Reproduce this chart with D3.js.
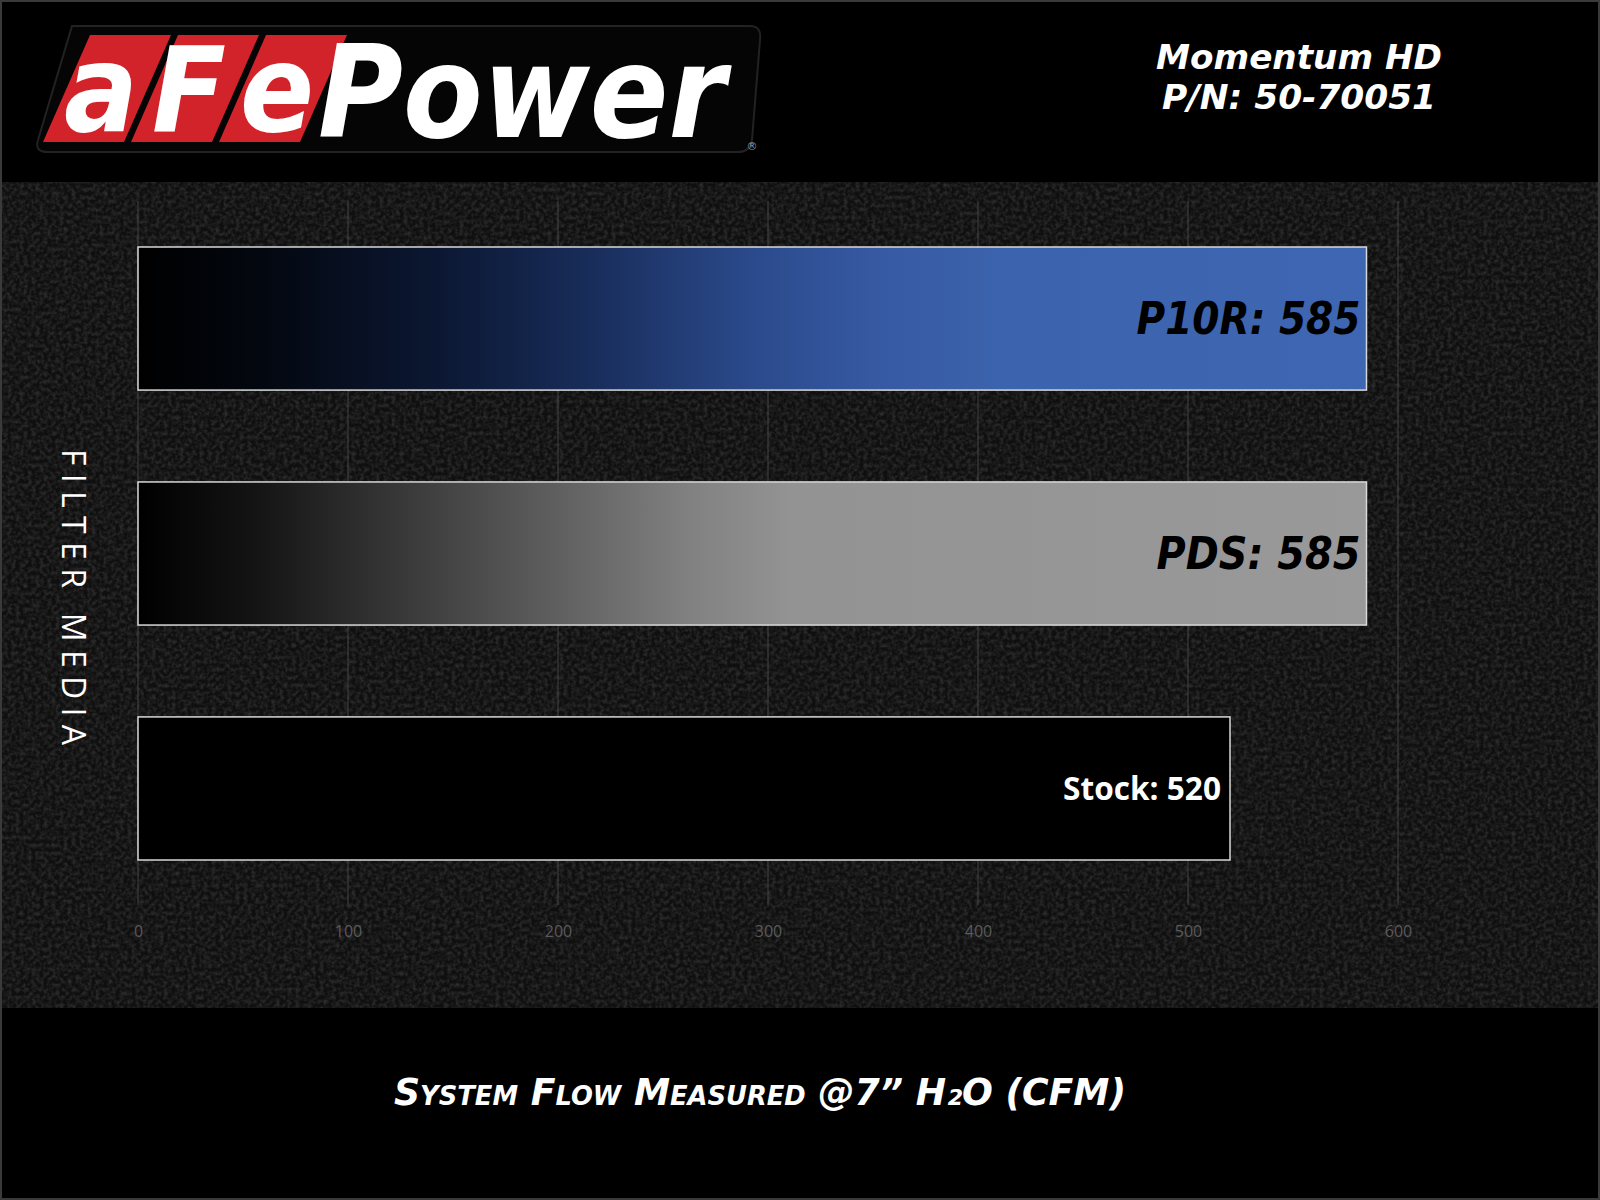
<!DOCTYPE html>
<html><head><meta charset="utf-8">
<script src="https://cdn.jsdelivr.net/npm/d3@7"></script>
<style>html,body{margin:0;padding:0;background:#000;}svg{display:block;}</style>
</head><body>
<svg id="c" width="1600" height="1200"></svg>
<script>
const categories = ["P10R", "PDS", "Stock"];
const values = [585, 585, 520];
const barLabels = ["P10R: 585", "PDS: 585", "Stock: 520"];
const tickValues = [0, 100, 200, 300, 400, 500, 600];
const titleLines = ["Momentum HD", "P/N: 50-70051"];
const yTitle = "FILTER MEDIA";
const xTitle = "System Flow Measured @7\u201D H\u2082O (CFM)";
const logoRed = ["a", "F", "e"];
const logoWhite = "Power";

const svg = d3.select("#c");
const W = 1600, H = 1200;
const defs = svg.append("defs");

// subtle noise texture
const f = defs.append("filter").attr("id", "noise").attr("x", 0).attr("y", 0).attr("width", "100%").attr("height", "100%");
f.append("feTurbulence").attr("type", "fractalNoise").attr("baseFrequency", 0.25).attr("numOctaves", 4).attr("seed", 7).attr("result", "t");
f.append("feColorMatrix").attr("in", "t").attr("type", "matrix")
  .attr("values", "0 0 0 0 0.12  0 0 0 0 0.12  0 0 0 0 0.12  0 0 0 -1.6 1.05");

const gBlue = defs.append("linearGradient").attr("id", "gBlue");
[[0, "#000000"], [0.1, "#03070f"], [0.25, "#0c1834"], [0.38, "#1a2f5e"], [0.5, "#2b4a8c"], [0.6, "#3659a2"], [0.7, "#3c63ad"], [1, "#3e66b2"]]
  .forEach(s => gBlue.append("stop").attr("offset", s[0]).attr("stop-color", s[1]));
const gGray = defs.append("linearGradient").attr("id", "gGray");
[[0, "#000000"], [0.1, "#151515"], [0.22, "#3a3a3a"], [0.35, "#626262"], [0.45, "#818181"], [0.53, "#939393"], [1, "#999999"]]
  .forEach(s => gGray.append("stop").attr("offset", s[0]).attr("stop-color", s[1]));

// background
svg.append("rect").attr("width", W).attr("height", H).attr("fill", "#000");
svg.append("rect").attr("x", 0).attr("y", 182).attr("width", W).attr("height", 826).attr("fill", "#0f0f0f");
svg.append("rect").attr("x", 0).attr("y", 182).attr("width", W).attr("height", 826).attr("fill", "#000").attr("filter", "url(#noise)").attr("opacity", 0.45);
svg.append("rect").attr("x", 1).attr("y", 1).attr("width", W - 2).attr("height", H - 2).attr("fill", "none").attr("stroke", "#3a3a3a").attr("stroke-width", 2);

// scales
const x = d3.scaleLinear().domain([0, 600]).range([138, 1398]);
const y = d3.scaleBand().domain(categories).range([200, 907]).paddingInner(0.391).paddingOuter(0.2);

// gridlines
svg.append("g").selectAll("line").data(tickValues).join("line")
  .attr("x1", d => x(d)).attr("x2", d => x(d)).attr("y1", 201).attr("y2", 905)
  .attr("stroke", "#444").attr("stroke-width", 1);

// axis
const ax = svg.append("g").attr("transform", "translate(0,926)")
  .call(d3.axisBottom(x).tickValues(tickValues).tickSize(0).tickPadding(0));
ax.select(".domain").remove();
ax.selectAll("text").attr("fill", "#5a5a5a").attr("font-family", "'Open Sans', sans-serif").attr("font-size", 16).attr("dy", "0.71em");

// bars
const fills = ["url(#gBlue)", "url(#gGray)", "#000"];
svg.append("g").selectAll("rect").data(values).join("rect")
  .attr("x", x(0)).attr("y", (d, i) => y(categories[i]))
  .attr("width", d => x(d) - x(0)).attr("height", y.bandwidth())
  .attr("fill", (d, i) => fills[i]).attr("stroke", "#d8d8d8").attr("stroke-width", 1.5);

// bar labels
svg.append("g").selectAll("text").data(values).join("text")
  .attr("x", (d, i) => x(d) - (i < 2 ? 6 : 9))
  .attr("y", (d, i) => y(categories[i]) + y.bandwidth() / 2)
  .attr("dy", "0.36em")
  .attr("text-anchor", "end")
  .attr("font-family", (d, i) => i < 2 ? "'DejaVu Sans', sans-serif" : "'Open Sans', sans-serif")
  .attr("font-weight", "bold")
  .attr("font-style", (d, i) => i < 2 ? "italic" : "normal")
  .attr("font-size", (d, i) => i < 2 ? 44 : 32)
  .attr("fill", (d, i) => i < 2 ? "#000" : "#fff")
  .attr("textLength", (d, i) => [224, 204, 158][i])
  .attr("lengthAdjust", "spacingAndGlyphs")
  .text((d, i) => barLabels[i]);

// y title
svg.append("text").attr("transform", "translate(62,597) rotate(90)")
  .attr("text-anchor", "middle").attr("fill", "#fff")
  .attr("font-family", "'Open Sans', sans-serif").attr("font-size", 32)
  .attr("textLength", 296).attr("lengthAdjust", "spacing")
  .text(yTitle);

// x title (small caps)
svg.append("text").attr("x", 760).attr("y", 1105).attr("text-anchor", "middle")
  .attr("fill", "#fff").attr("font-family", "'DejaVu Sans', sans-serif").attr("font-weight", "bold").attr("font-style", "italic")
  .attr("font-size", 38).style("font-variant", "small-caps")
  .attr("textLength", 732).attr("lengthAdjust", "spacingAndGlyphs")
  .text(xTitle);

// title top right
svg.append("g").selectAll("text").data(titleLines).join("text")
  .attr("x", 1299).attr("y", (d, i) => 69 + i * 40).attr("text-anchor", "middle")
  .attr("fill", "#fff").attr("font-family", "'DejaVu Sans', sans-serif").attr("font-weight", "bold").attr("font-style", "italic")
  .attr("font-size", 34)
  .attr("textLength", (d, i) => [286, 274][i]).attr("lengthAdjust", "spacingAndGlyphs")
  .text(d => d);

// logo
const logo = svg.append("g");
logo.append("path").attr("d", "M72,26 L750,26 Q762,26 760,40 L752,140 Q750,152 738,152 L48,152 Q34,152 38,140 Z")
  .attr("fill", "#050505").attr("stroke", "#222").attr("stroke-width", 2);
const boxes = logo.selectAll("g.box").data(logoRed).join("g").attr("class", "box");
boxes.append("path").attr("d", (d, i) => {
  const bx = 43 + i * 88, top = 35, bot = 142, w = 81, sk = 47;
  return `M${bx + sk},${top} L${bx + sk + w},${top} L${bx + w},${bot} L${bx},${bot} Z`;
}).attr("fill", "#d2232a");
boxes.append("text").attr("x", (d, i) => 64 + i * 88).attr("y", 131)
  .attr("fill", "#fff").attr("font-family", "'DejaVu Sans', sans-serif").attr("font-weight", "bold").attr("font-style", "italic")
  .attr("font-size", (d, i) => i === 1 ? 118 : 122)
  .attr("textLength", 74).attr("lengthAdjust", "spacingAndGlyphs")
  .text(d => d);
logo.append("text").attr("transform", "translate(318,137) scale(1,1.1)").attr("fill", "#fff")
  .attr("font-family", "'DejaVu Sans', sans-serif").attr("font-weight", "bold").attr("font-style", "italic")
  .attr("font-size", 116)
  .text(logoWhite);
logo.append("text").attr("x", 752).attr("y", 150).attr("text-anchor", "middle").attr("fill", "#999")
  .attr("font-family", "'DejaVu Sans', sans-serif").attr("font-size", 11).text("\u00AE");
</script>
</body></html>
